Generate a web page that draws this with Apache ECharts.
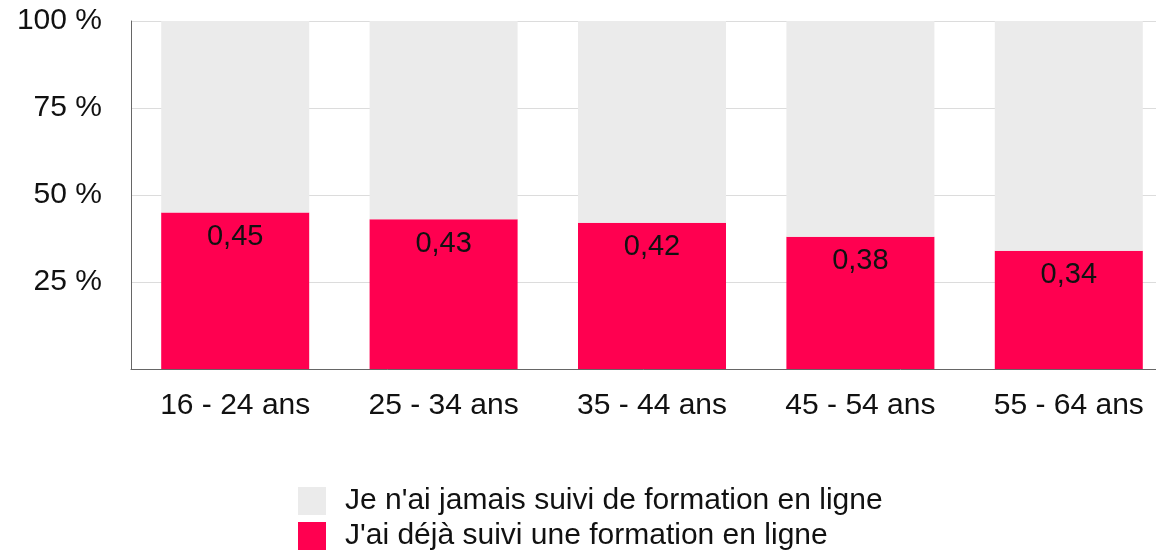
<!DOCTYPE html>
<html>
<head>
<meta charset="utf-8">
<script src="https://cdn.jsdelivr.net/npm/echarts@6/dist/echarts.min.js"></script>
<style>
	html, body { margin: 0; padding: 0; background: #fff; }
	#chart { width: 1156px; height: 553px; }
</style>
</head>
<body>
<div id="chart"></div>
<script>
var categories = ['16 - 24 ans', '25 - 34 ans', '35 - 44 ans', '45 - 54 ans', '55 - 64 ans'];
var dejaSuivi = [0.45, 0.43, 0.42, 0.38, 0.34];
var jamaisSuivi = [0.55, 0.57, 0.58, 0.62, 0.66];
var seriesNames = ["Je n'ai jamais suivi de formation en ligne", "J'ai déjà suivi une formation en ligne"];

var font = 'Liberation Sans, Arial, Helvetica, sans-serif';

echarts.init(document.getElementById('chart')).setOption({
	animation: false,
	textStyle: {
		fontFamily: font
	},
	grid: {
		left: 131,
		top: 21,
		width: 1042,
		height: 348,
		outerBoundsMode: 'none'
	},
	legend: {
		data: seriesNames,
		orient: 'vertical',
		left: 298,
		top: 486,
		height: 120,
		padding: 0,
		itemWidth: 28,
		itemHeight: 28,
		itemGap: 5,
		icon: 'rect',
		textStyle: {
			color: '#111',
			fontSize: 30,
			padding: [0, 0, 0, 14]
		}
	},
	xAxis: [{
		type: 'category',
		data: categories,
		axisLine: {
			lineStyle: {
				color: '#666'
			}
		},
		axisTick: {
			show: false
		},
		axisLabel: {
			color: '#111',
			fontSize: 30,
			margin: 22
		}
	}],
	yAxis: [{
		type: 'value',
		min: 0,
		max: 1,
		interval: 0.25,
		axisLine: {
			show: true,
			lineStyle: {
				color: '#666'
			}
		},
		axisTick: {
			show: false
		},
		axisLabel: {
			color: '#111',
			fontSize: 30,
			margin: 29,
			formatter: function(v) {
				if (v === 0) return '';
				return Math.round(v * 100) + ' %';
			}
		},
		splitLine: {
			show: true,
			lineStyle: {
				color: '#dcdcdc'
			}
		}
	}],
	series: [{
		name: seriesNames[1],
		type: 'bar',
		stack: 'total',
		barWidth: 148,
		itemStyle: {
			color: '#ff0050'
		},
		label: {
			show: true,
			position: 'insideTop',
			distance: 10,
			color: '#111',
			fontSize: 29,
			formatter: function(p) {
				return p.value.toFixed(2).replace('.', ',');
			}
		},
		data: dejaSuivi
	}, {
		name: seriesNames[0],
		type: 'bar',
		stack: 'total',
		barWidth: 148,
		itemStyle: {
			color: '#ebebeb'
		},
		data: jamaisSuivi
	}]
});
</script>
</body>
</html>
